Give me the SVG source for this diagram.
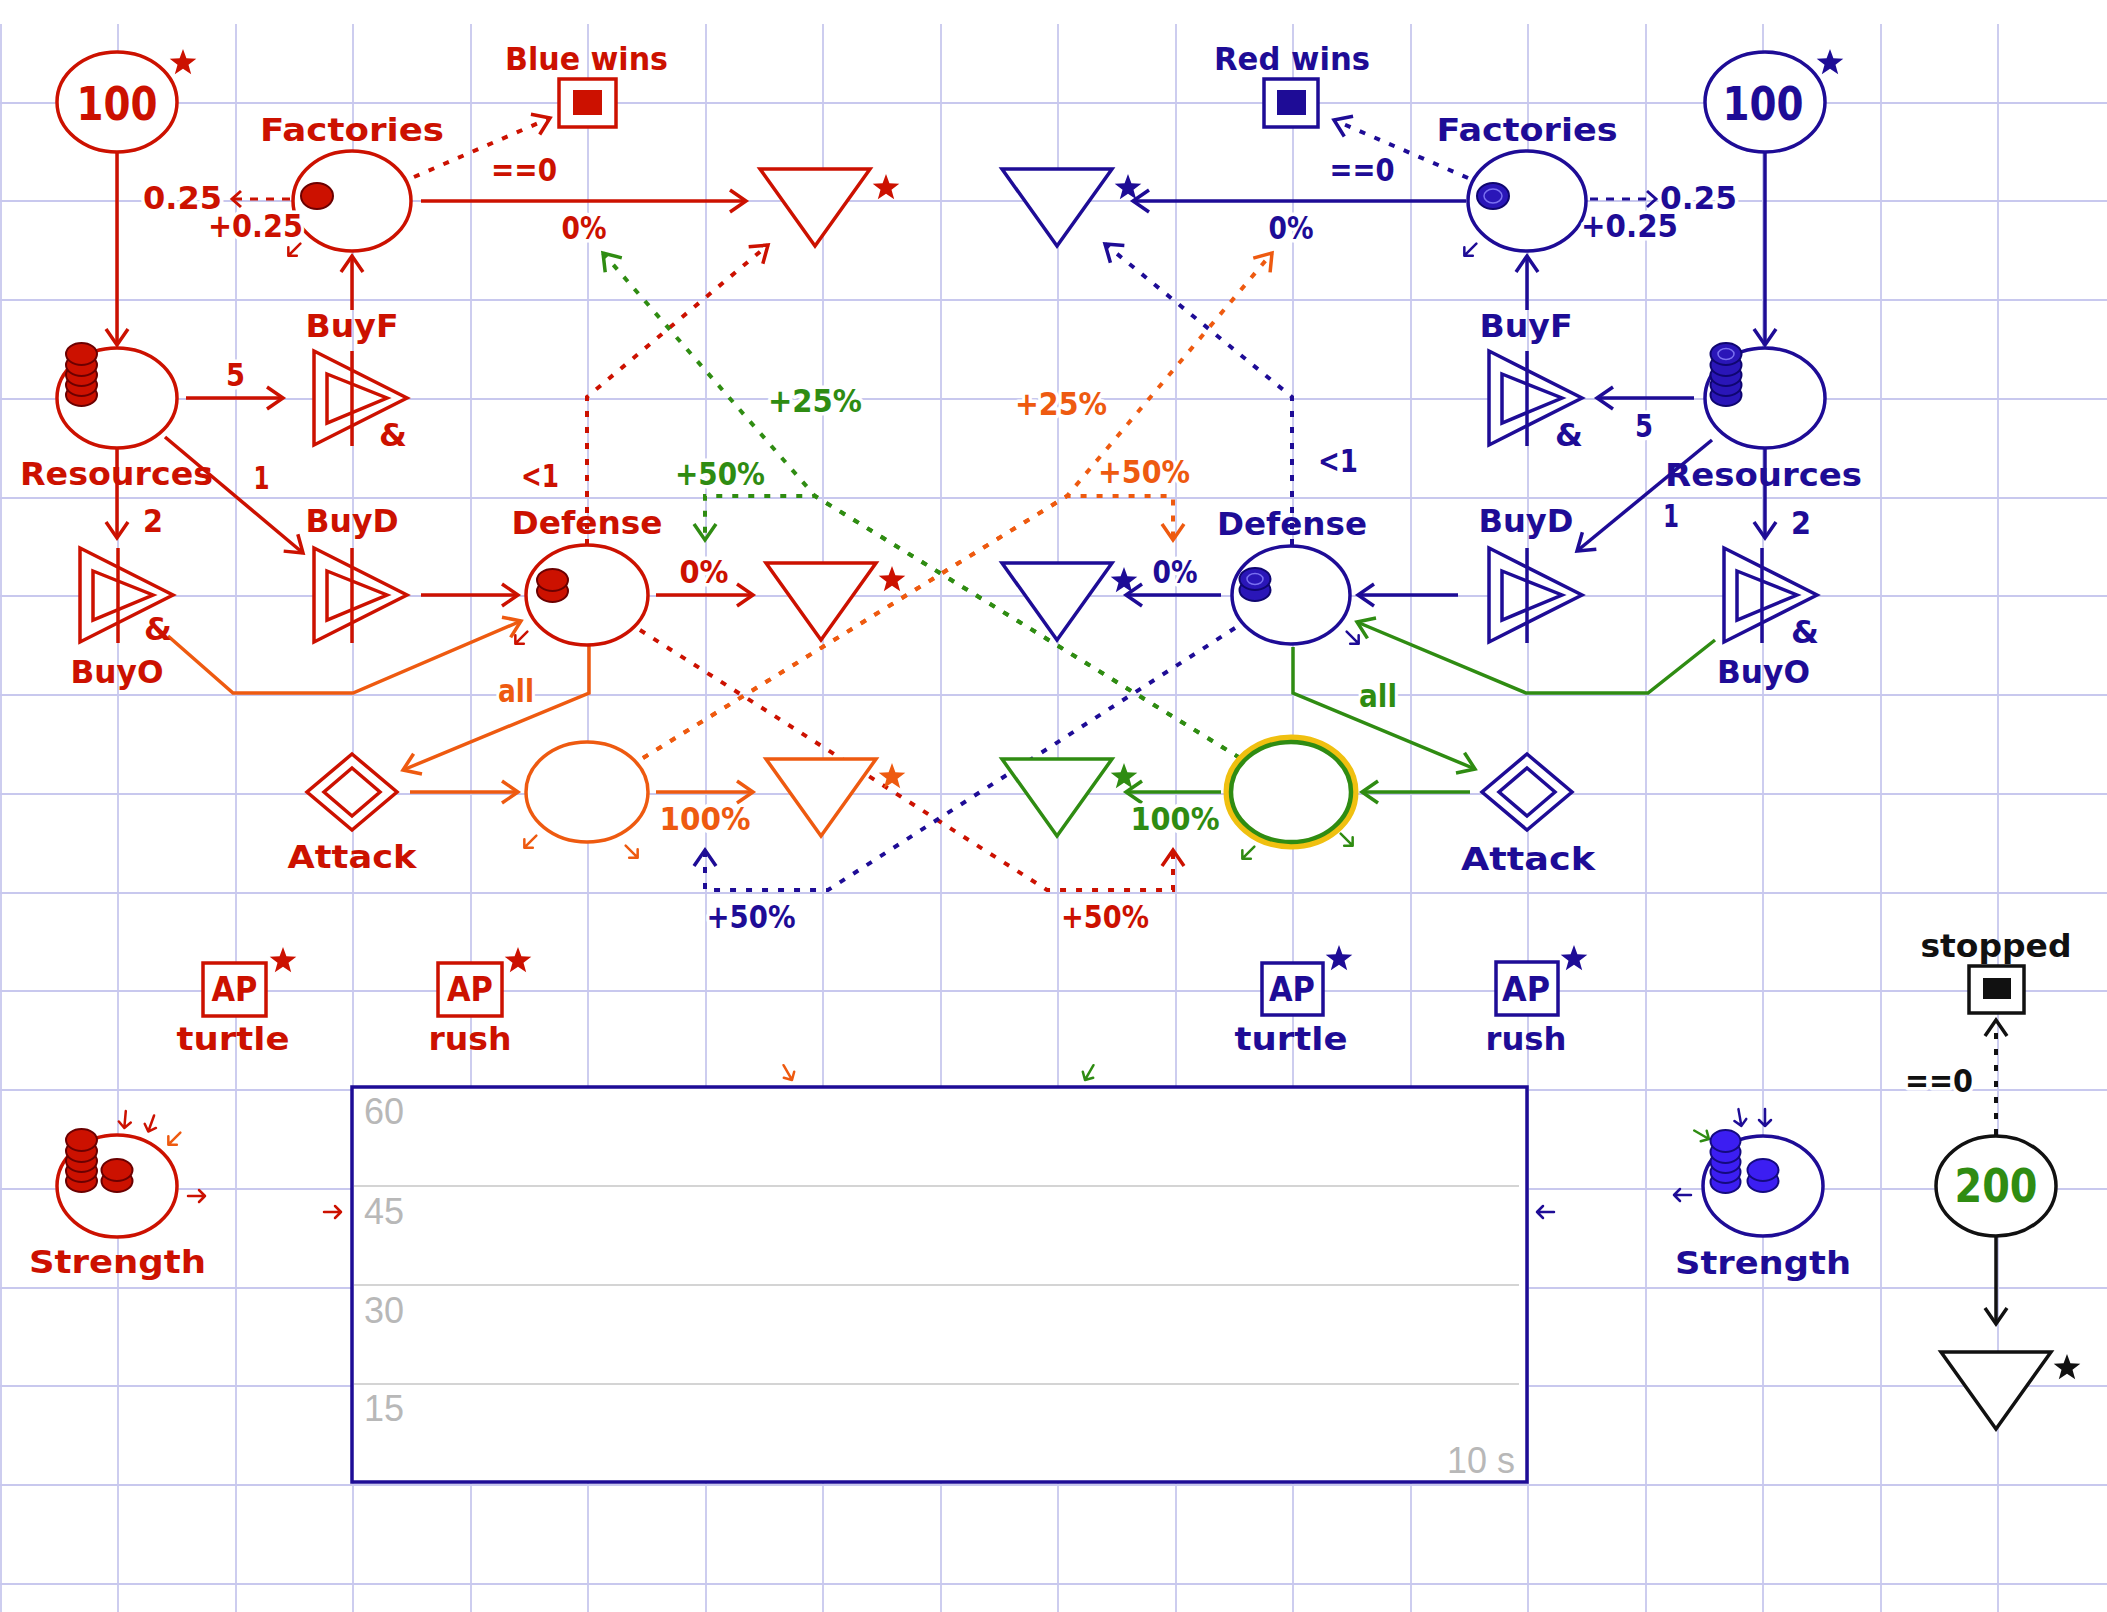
<svg xmlns="http://www.w3.org/2000/svg" width="2107" height="1612" viewBox="0 0 2107 1612">
<style>
.t{font-family:'DejaVu Sans',Verdana,sans-serif;font-weight:bold;font-size:32px;text-anchor:middle}
.big{font-size:46px}
.ap{font-size:33px}
.cl{paint-order:stroke;stroke:#fff;stroke-width:7px;stroke-linejoin:round}
.tr{fill:#cc1100}.tb{fill:#1e0c96}.to{fill:#ee5a10}.tg{fill:#2f8c12}.tk{fill:#111}
.sr{stroke:#cc1100}.sb{stroke:#1e0c96}.so{stroke:#ee5a10}.sg{stroke:#2f8c12}.sk{stroke:#111}
.n{stroke-width:3.5;fill:#fff}
.f{fill:none;stroke-width:3.5}
.d{fill:none;stroke-width:4;stroke-dasharray:6 10}
.ds{fill:none;stroke-width:3;stroke-dasharray:8 8}
.grid line{stroke:#c8c8ee;stroke-width:1.8}
.sa{fill:none;stroke-width:2.5;stroke-linecap:round;stroke-linejoin:round}
.cr{fill:#cc1100;stroke:#6b0000;stroke-width:2}
.cb{fill:#2a16b8;stroke:#0f0670;stroke-width:2}
.cbb{fill:#3c1ef2;stroke:#140a80;stroke-width:2}
.ring{fill:none;stroke:#7a70f0;stroke-width:1.5}
.ch{font-family:'Liberation Sans',Arial,sans-serif;font-size:36px;fill:#b8b8b8}
</style>
<defs>
<path id="star" d="M0,-14 L3.4,-4.7 L13.3,-4.3 L5.5,1.8 L8.2,11.3 L0,5.8 L-8.2,11.3 L-5.5,1.8 L-13.3,-4.3 L-3.4,-4.7 Z"/>
<path id="sa" d="M-9,0 H8 M2,-6 L8,0 L2,6"/>
<g id="conv" stroke-width="3.5"><path d="M-38,-47 L55,0 L-38,47 Z" fill="#fff"/><path d="M-25,-24 L35,0 L-25,25 Z" fill="none"/><path d="M0,-47 V48" fill="none"/></g>
<g id="gate" stroke-width="3.5"><path d="M0,-38 L45,0 L0,38 L-45,0 Z" fill="#fff"/><path d="M0,-24 L28,0 L0,24 L-28,0 Z" fill="none"/></g>
<polygon id="drain" points="-55,-33 55,-33 0,44" fill="#fff" stroke-width="3.5"/>
<marker id="mR" markerUnits="userSpaceOnUse" orient="auto" overflow="visible" markerWidth="1" markerHeight="1"><path d="M-16,-11 L0,0 L-16,11" fill="none" stroke="#cc1100" stroke-width="3.5"/></marker>
<marker id="mB" markerUnits="userSpaceOnUse" orient="auto" overflow="visible" markerWidth="1" markerHeight="1"><path d="M-16,-11 L0,0 L-16,11" fill="none" stroke="#1e0c96" stroke-width="3.5"/></marker>
<marker id="mO" markerUnits="userSpaceOnUse" orient="auto" overflow="visible" markerWidth="1" markerHeight="1"><path d="M-16,-11 L0,0 L-16,11" fill="none" stroke="#ee5a10" stroke-width="3.5"/></marker>
<marker id="mG" markerUnits="userSpaceOnUse" orient="auto" overflow="visible" markerWidth="1" markerHeight="1"><path d="M-16,-11 L0,0 L-16,11" fill="none" stroke="#2f8c12" stroke-width="3.5"/></marker>
<marker id="mK" markerUnits="userSpaceOnUse" orient="auto" overflow="visible" markerWidth="1" markerHeight="1"><path d="M-16,-11 L0,0 L-16,11" fill="none" stroke="#111" stroke-width="3.5"/></marker>
<marker id="sR" markerUnits="userSpaceOnUse" orient="auto" overflow="visible" markerWidth="1" markerHeight="1"><path d="M-9,-8 L0,0 L-9,8" fill="none" stroke="#cc1100" stroke-width="3"/></marker>
<marker id="sB" markerUnits="userSpaceOnUse" orient="auto" overflow="visible" markerWidth="1" markerHeight="1"><path d="M-9,-8 L0,0 L-9,8" fill="none" stroke="#1e0c96" stroke-width="3"/></marker>
</defs>
<rect width="2107" height="1612" fill="#fff"/>
<g class="grid">
<line x1="1" y1="24" x2="1" y2="1612"/><line x1="118" y1="24" x2="118" y2="1612"/><line x1="236" y1="24" x2="236" y2="1612"/><line x1="353" y1="24" x2="353" y2="1612"/><line x1="471" y1="24" x2="471" y2="1612"/><line x1="588" y1="24" x2="588" y2="1612"/><line x1="706" y1="24" x2="706" y2="1612"/><line x1="823" y1="24" x2="823" y2="1612"/><line x1="941" y1="24" x2="941" y2="1612"/><line x1="1058" y1="24" x2="1058" y2="1612"/><line x1="1176" y1="24" x2="1176" y2="1612"/><line x1="1293" y1="24" x2="1293" y2="1612"/><line x1="1411" y1="24" x2="1411" y2="1612"/><line x1="1528" y1="24" x2="1528" y2="1612"/><line x1="1646" y1="24" x2="1646" y2="1612"/><line x1="1763" y1="24" x2="1763" y2="1612"/><line x1="1881" y1="24" x2="1881" y2="1612"/><line x1="1998" y1="24" x2="1998" y2="1612"/>
<line x1="0" y1="103" x2="2107" y2="103"/><line x1="0" y1="201" x2="2107" y2="201"/><line x1="0" y1="300" x2="2107" y2="300"/><line x1="0" y1="399" x2="2107" y2="399"/><line x1="0" y1="498" x2="2107" y2="498"/><line x1="0" y1="596" x2="2107" y2="596"/><line x1="0" y1="695" x2="2107" y2="695"/><line x1="0" y1="794" x2="2107" y2="794"/><line x1="0" y1="893" x2="2107" y2="893"/><line x1="0" y1="991" x2="2107" y2="991"/><line x1="0" y1="1090" x2="2107" y2="1090"/><line x1="0" y1="1189" x2="2107" y2="1189"/><line x1="0" y1="1288" x2="2107" y2="1288"/><line x1="0" y1="1386" x2="2107" y2="1386"/><line x1="0" y1="1485" x2="2107" y2="1485"/><line x1="0" y1="1584" x2="2107" y2="1584"/>
</g>

<g id="chart">
<rect x="352" y="1087" width="1175" height="395" fill="#fff" stroke="#1e0c96" stroke-width="3.5"/>
<line x1="354" y1="1186" x2="1519" y2="1186" stroke="#d4d4d4" stroke-width="2"/>
<line x1="354" y1="1285" x2="1519" y2="1285" stroke="#d4d4d4" stroke-width="2"/>
<line x1="354" y1="1384" x2="1519" y2="1384" stroke="#d4d4d4" stroke-width="2"/>
<text class="ch" x="364" y="1124">60</text>
<text class="ch" x="364" y="1224">45</text>
<text class="ch" x="364" y="1323">30</text>
<text class="ch" x="364" y="1421">15</text>
<text class="ch" x="1515" y="1473" text-anchor="end">10 s</text>
</g>

<g id="connectors">
<path class="f sr" d="M117,153 V345" marker-end="url(#mR)"/>
<path class="f sr" d="M186,398 H283" marker-end="url(#mR)"/>
<path class="f sr" d="M352,310 V256" marker-end="url(#mR)"/>
<path class="f sr" d="M165,437 L303,553" marker-end="url(#mR)"/>
<path class="f sr" d="M117,449 V538" marker-end="url(#mR)"/>
<path class="f sr" d="M421,595 H518" marker-end="url(#mR)"/>
<path class="f sr" d="M421,201 H746" marker-end="url(#mR)"/>
<path class="f sr" d="M656,595 H753" marker-end="url(#mR)"/>
<path class="d sr" d="M414,177 L550,118" marker-end="url(#mR)"/>
<path class="ds sr" d="M290,199 H232" marker-end="url(#sR)"/>
<path class="d sr" d="M587,545 V397 L768,245" marker-end="url(#mR)"/>
<path class="d sr" d="M640,630 L1047,890 H1173 V850" marker-end="url(#mR)"/>
<path class="f so" d="M168,636 L233,693 H353 L521,621" marker-end="url(#mO)"/>
<path class="f so" d="M589,646 V693 L403,770" marker-end="url(#mO)"/>
<path class="f so" d="M410,792 H518" marker-end="url(#mO)"/>
<path class="f so" d="M656,792 H753" marker-end="url(#mO)"/>
<path class="d so" d="M643,758 L1067,496 L1272,253" marker-end="url(#mO)"/>
<path class="d so" d="M643,758 L1067,496 H1173 V540" marker-end="url(#mO)"/>
<path class="f sg" d="M1715,640 L1648,693 H1526 L1357,622" marker-end="url(#mG)"/>
<path class="f sg" d="M1293,647 V693 L1475,769" marker-end="url(#mG)"/>
<path class="f sg" d="M1470,792 H1362" marker-end="url(#mG)"/>
<path class="f sg" d="M1221,792 H1126" marker-end="url(#mG)"/>
<path class="d sg" d="M1240,758 L815,496 L603,253" marker-end="url(#mG)"/>
<path class="d sg" d="M1240,758 L815,496 H705 V540" marker-end="url(#mG)"/>
<path class="f sb" d="M1765,153 V345" marker-end="url(#mB)"/>
<path class="f sb" d="M1694,398 H1597" marker-end="url(#mB)"/>
<path class="f sb" d="M1527,310 V256" marker-end="url(#mB)"/>
<path class="f sb" d="M1712,440 L1577,551" marker-end="url(#mB)"/>
<path class="f sb" d="M1765,449 V538" marker-end="url(#mB)"/>
<path class="f sb" d="M1458,595 H1358" marker-end="url(#mB)"/>
<path class="f sb" d="M1466,201 H1133" marker-end="url(#mB)"/>
<path class="f sb" d="M1221,595 H1126" marker-end="url(#mB)"/>
<path class="d sb" d="M1468,178 L1334,120" marker-end="url(#mB)"/>
<path class="ds sb" d="M1590,199 H1656" marker-end="url(#sB)"/>
<path class="d sb" d="M1292,545 V397 L1105,244" marker-end="url(#mB)"/>
<path class="d sb" d="M1235,628 L828,890 H705 V850" marker-end="url(#mB)"/>
<path class="d sk" d="M1996,1135 V1020" marker-end="url(#mK)"/>
<path class="f sk" d="M1996,1237 V1324" marker-end="url(#mK)"/>
<use href="#sa" class="sa sr" transform="translate(294,250) rotate(135)"/>
<use href="#sa" class="sa sb" transform="translate(1470,250) rotate(135)"/>
<use href="#sa" class="sa sr" transform="translate(521,638) rotate(135)"/>
<use href="#sa" class="sa sb" transform="translate(1353,638) rotate(45)"/>
<use href="#sa" class="sa so" transform="translate(530,842) rotate(135)"/>
<use href="#sa" class="sa so" transform="translate(632,852) rotate(45)"/>
<use href="#sa" class="sa sg" transform="translate(1248,853) rotate(135)"/>
<use href="#sa" class="sa sg" transform="translate(1347,840) rotate(45)"/>
<use href="#sa" class="sa sr" transform="translate(125,1120) rotate(95)"/>
<use href="#sa" class="sa sr" transform="translate(151,1124) rotate(110)"/>
<use href="#sa" class="sa so" transform="translate(174,1139) rotate(135)"/>
<use href="#sa" class="sa sr" transform="translate(197,1196)"/>
<use href="#sa" class="sa sr" transform="translate(333,1212)"/>
<use href="#sa" class="sa so" transform="translate(788,1073) rotate(60)"/>
<use href="#sa" class="sa sg" transform="translate(1089,1073) rotate(120)"/>
<use href="#sa" class="sa sb" transform="translate(1545,1212) rotate(180)"/>
<use href="#sa" class="sa sg" transform="translate(1702,1135) rotate(30)"/>
<use href="#sa" class="sa sb" transform="translate(1740,1118) rotate(80)"/>
<use href="#sa" class="sa sb" transform="translate(1765,1118) rotate(90)"/>
<use href="#sa" class="sa sb" transform="translate(1682,1195) rotate(180)"/>
</g>

<g id="red-source">
<ellipse cx="117" cy="102" rx="60" ry="50" class="n sr"/>
<text class="t tr big" x="117" y="120" textLength="81" lengthAdjust="spacingAndGlyphs">100</text>
<use href="#star" x="183" y="63" fill="#cc1100"/>
</g>
<g id="red-resources">
<ellipse cx="117" cy="398" rx="60" ry="50" class="n sr"/>
<ellipse cx="81.5" cy="395" rx="15.5" ry="11" class="cr"/><ellipse cx="81.5" cy="385" rx="15.5" ry="11" class="cr"/><ellipse cx="81.5" cy="375" rx="15.5" ry="11" class="cr"/><ellipse cx="81.5" cy="365" rx="15.5" ry="11" class="cr"/><ellipse cx="81.5" cy="354" rx="15.5" ry="11" class="cr"/>
<text class="t tr" x="116.5" y="485" textLength="193" lengthAdjust="spacingAndGlyphs">Resources</text>
</g>
<g id="red-factories">
<ellipse cx="352" cy="201" rx="59" ry="50" class="n sr"/>
<ellipse cx="317" cy="196" rx="16" ry="13" class="cr"/>
<text class="t tr" x="352" y="141" textLength="184" lengthAdjust="spacingAndGlyphs">Factories</text>
</g>
<g id="red-buyf">
<use href="#conv" x="352" y="398" class="sr"/>
<text class="t tr" x="352" y="337" textLength="93" lengthAdjust="spacingAndGlyphs">BuyF</text>
<text class="t tr" x="393" y="446">&amp;</text>
</g>
<g id="red-buyd">
<use href="#conv" x="352" y="595" class="sr"/>
<text class="t tr" x="352" y="532" textLength="93" lengthAdjust="spacingAndGlyphs">BuyD</text>
</g>
<g id="red-buyo">
<use href="#conv" x="118" y="595" class="sr"/>
<text class="t tr" x="158" y="640">&amp;</text>
<text class="t tr" x="117" y="683" textLength="93" lengthAdjust="spacingAndGlyphs">BuyO</text>
</g>
<g id="red-defense">
<ellipse cx="587" cy="595" rx="61" ry="50" class="n sr"/>
<ellipse cx="552.5" cy="591" rx="15.5" ry="11" class="cr"/><ellipse cx="552.5" cy="580" rx="15.5" ry="11" class="cr"/>
<text class="t tr" x="587" y="534" textLength="151" lengthAdjust="spacingAndGlyphs">Defense</text>
</g>
<g id="red-attack">
<use href="#gate" x="352" y="792" class="sr"/>
<text class="t tr" x="352" y="868" textLength="129" lengthAdjust="spacingAndGlyphs">Attack</text>
</g>
<g id="orange-pool"><ellipse cx="587" cy="792" rx="61" ry="50" class="n so"/></g>
<g id="blue-wins">
<rect x="559" y="79" width="57" height="48" class="n sr"/>
<rect x="573" y="90" width="29" height="25" fill="#cc1100"/>
<text class="t tr" x="586.5" y="70" textLength="163" lengthAdjust="spacingAndGlyphs">Blue wins</text>
</g>
<g id="red-drain-top"><use href="#drain" x="815" y="202" class="sr"/><use href="#star" x="886" y="188" fill="#cc1100"/></g>
<g id="red-drain-mid"><use href="#drain" x="821" y="596" class="sr"/><use href="#star" x="892" y="580" fill="#cc1100"/></g>
<g id="orange-drain"><use href="#drain" x="821" y="792" class="so"/><use href="#star" x="892" y="777" fill="#ee5a10"/></g>
<g id="blue-drain-top"><use href="#drain" x="1057" y="202" class="sb"/><use href="#star" x="1128" y="188" fill="#1e0c96"/></g>
<g id="blue-drain-mid"><use href="#drain" x="1057" y="596" class="sb"/><use href="#star" x="1124" y="581" fill="#1e0c96"/></g>
<g id="green-drain"><use href="#drain" x="1057" y="792" class="sg"/><use href="#star" x="1124" y="777" fill="#2f8c12"/></g>

<g id="blue-source">
<ellipse cx="1765" cy="102" rx="60" ry="50" class="n sb"/>
<text class="t tb big" x="1763" y="120" textLength="81" lengthAdjust="spacingAndGlyphs">100</text>
<use href="#star" x="1830" y="63" fill="#1e0c96"/>
</g>
<g id="blue-resources">
<ellipse cx="1765" cy="398" rx="60" ry="50" class="n sb"/>
<ellipse cx="1726" cy="395" rx="15.5" ry="11" class="cb"/><ellipse cx="1726" cy="385" rx="15.5" ry="11" class="cb"/><ellipse cx="1726" cy="375" rx="15.5" ry="11" class="cb"/><ellipse cx="1726" cy="365" rx="15.5" ry="11" class="cb"/><ellipse cx="1726" cy="354" rx="15.5" ry="11" class="cb"/><ellipse cx="1726" cy="354" rx="8" ry="5.5" class="ring"/>
<text class="t tb" x="1763.5" y="486" textLength="197" lengthAdjust="spacingAndGlyphs">Resources</text>
</g>
<g id="blue-factories">
<ellipse cx="1527" cy="201" rx="59" ry="50" class="n sb"/>
<ellipse cx="1493" cy="196" rx="16" ry="13" class="cb"/><ellipse cx="1493" cy="196" rx="9" ry="7" class="ring"/>
<text class="t tb" x="1527" y="141" textLength="181" lengthAdjust="spacingAndGlyphs">Factories</text>
</g>
<g id="blue-buyf">
<use href="#conv" x="1527" y="398" class="sb"/>
<text class="t tb" x="1526" y="337" textLength="93" lengthAdjust="spacingAndGlyphs">BuyF</text>
<text class="t tb" x="1569" y="446">&amp;</text>
</g>
<g id="blue-buyd">
<use href="#conv" x="1527" y="595" class="sb"/>
<text class="t tb" x="1526" y="532" textLength="95" lengthAdjust="spacingAndGlyphs">BuyD</text>
</g>
<g id="blue-buyo">
<use href="#conv" x="1762" y="595" class="sb"/>
<text class="t tb" x="1805" y="643">&amp;</text>
<text class="t tb" x="1763.5" y="683" textLength="93" lengthAdjust="spacingAndGlyphs">BuyO</text>
</g>
<g id="blue-defense">
<ellipse cx="1291" cy="595" rx="59" ry="49" class="n sb"/>
<ellipse cx="1255" cy="590" rx="15.5" ry="11" class="cb"/><ellipse cx="1255" cy="579" rx="15.5" ry="11" class="cb"/><ellipse cx="1255" cy="579" rx="8" ry="5.5" class="ring"/>
<text class="t tb" x="1292" y="535" textLength="150" lengthAdjust="spacingAndGlyphs">Defense</text>
</g>
<g id="blue-attack">
<use href="#gate" x="1527" y="792" class="sb"/>
<text class="t tb" x="1528" y="870" textLength="134" lengthAdjust="spacingAndGlyphs">Attack</text>
</g>
<g id="green-pool">
<ellipse cx="1291" cy="792" rx="63" ry="53" fill="#fff" stroke="#f0c010" stroke-width="9"/>
<ellipse cx="1291" cy="792" rx="60" ry="50" fill="none" stroke="#2f8c12" stroke-width="4.5"/>
</g>
<g id="red-wins">
<rect x="1264" y="79" width="54" height="48" class="n sb"/>
<rect x="1277" y="90" width="29" height="25" fill="#1e0c96"/>
<text class="t tb" x="1292" y="70" textLength="156" lengthAdjust="spacingAndGlyphs">Red wins</text>
</g>

<g id="red-ap-turtle">
<rect x="203" y="963" width="63" height="53" class="n sr"/>
<text class="t tr ap" x="234.5" y="1001" textLength="46" lengthAdjust="spacingAndGlyphs">AP</text>
<use href="#star" x="283" y="961" fill="#cc1100"/>
<text class="t tr" x="233" y="1050" textLength="113" lengthAdjust="spacingAndGlyphs">turtle</text>
</g>
<g id="red-ap-rush">
<rect x="438" y="963" width="64" height="53" class="n sr"/>
<text class="t tr ap" x="470" y="1001" textLength="46" lengthAdjust="spacingAndGlyphs">AP</text>
<use href="#star" x="518" y="961" fill="#cc1100"/>
<text class="t tr" x="470" y="1050" textLength="83" lengthAdjust="spacingAndGlyphs">rush</text>
</g>
<g id="blue-ap-turtle">
<rect x="1262" y="963" width="61" height="52" class="n sb"/>
<text class="t tb ap" x="1292" y="1001" textLength="46" lengthAdjust="spacingAndGlyphs">AP</text>
<use href="#star" x="1339" y="959" fill="#1e0c96"/>
<text class="t tb" x="1291" y="1050" textLength="113" lengthAdjust="spacingAndGlyphs">turtle</text>
</g>
<g id="blue-ap-rush">
<rect x="1496" y="962" width="62" height="53" class="n sb"/>
<text class="t tb ap" x="1526" y="1001" textLength="48" lengthAdjust="spacingAndGlyphs">AP</text>
<use href="#star" x="1574" y="959" fill="#1e0c96"/>
<text class="t tb" x="1526" y="1050" textLength="81" lengthAdjust="spacingAndGlyphs">rush</text>
</g>

<g id="red-strength">
<ellipse cx="117" cy="1186" rx="60" ry="51" class="n sr"/>
<ellipse cx="81.5" cy="1181" rx="15.5" ry="11" class="cr"/><ellipse cx="81.5" cy="1171" rx="15.5" ry="11" class="cr"/><ellipse cx="81.5" cy="1161" rx="15.5" ry="11" class="cr"/><ellipse cx="81.5" cy="1151" rx="15.5" ry="11" class="cr"/><ellipse cx="81.5" cy="1140" rx="15.5" ry="11" class="cr"/>
<ellipse cx="117" cy="1181" rx="15.5" ry="11" class="cr"/><ellipse cx="117" cy="1170" rx="15.5" ry="11" class="cr"/>
<text class="t tr" x="117.5" y="1273" textLength="177" lengthAdjust="spacingAndGlyphs">Strength</text>
</g>
<g id="blue-strength">
<ellipse cx="1763" cy="1186" rx="60" ry="50" class="n sb"/>
<ellipse cx="1725.5" cy="1182" rx="15" ry="11" class="cbb"/><ellipse cx="1725.5" cy="1172" rx="15" ry="11" class="cbb"/><ellipse cx="1725.5" cy="1162" rx="15" ry="11" class="cbb"/><ellipse cx="1725.5" cy="1152" rx="15" ry="11" class="cbb"/><ellipse cx="1725.5" cy="1141" rx="15" ry="11" class="cbb"/>
<ellipse cx="1763" cy="1181" rx="15.5" ry="11" class="cbb"/><ellipse cx="1763" cy="1170" rx="15.5" ry="11" class="cbb"/>
<text class="t tb" x="1763" y="1274" textLength="176" lengthAdjust="spacingAndGlyphs">Strength</text>
</g>
<g id="timer-source">
<ellipse cx="1996" cy="1186" rx="60" ry="50" class="n sk"/>
<text class="t tg big" x="1996" y="1202" textLength="83" lengthAdjust="spacingAndGlyphs">200</text>
</g>
<g id="stopped">
<rect x="1969" y="966" width="55" height="47" class="n sk"/>
<rect x="1983" y="978" width="28" height="21" fill="#111"/>
<text class="t tk" x="1996" y="957" textLength="151" lengthAdjust="spacingAndGlyphs">stopped</text>
</g>
<g id="black-drain"><use href="#drain" x="1996" y="1385" class="sk"/><use href="#star" x="2067" y="1368" fill="#111"/></g>

<g id="connection-labels">
<text class="t tr cl" x="182.5" y="209" textLength="79" lengthAdjust="spacingAndGlyphs">0.25</text>
<text class="t tr cl" x="255.5" y="237" textLength="95" lengthAdjust="spacingAndGlyphs">+0.25</text>
<text class="t tr cl" x="524" y="181" textLength="66" lengthAdjust="spacingAndGlyphs">==0</text>
<text class="t tr cl" x="584" y="239" textLength="45" lengthAdjust="spacingAndGlyphs">0%</text>
<text class="t tr cl" x="235.5" y="386" textLength="19" lengthAdjust="spacingAndGlyphs">5</text>
<text class="t tr cl" x="261.5" y="489" textLength="16" lengthAdjust="spacingAndGlyphs">1</text>
<text class="t tr cl" x="153" y="532" textLength="20" lengthAdjust="spacingAndGlyphs">2</text>
<text class="t tr cl" x="540" y="487" textLength="38" lengthAdjust="spacingAndGlyphs">&lt;1</text>
<text class="t tr cl" x="704" y="583" textLength="49" lengthAdjust="spacingAndGlyphs">0%</text>
<text class="t to cl" x="516" y="702" textLength="36" lengthAdjust="spacingAndGlyphs">all</text>
<text class="t to cl" x="705" y="830" textLength="91" lengthAdjust="spacingAndGlyphs">100%</text>
<text class="t tg cl" x="815" y="412" textLength="94" lengthAdjust="spacingAndGlyphs">+25%</text>
<text class="t tg cl" x="720" y="485" textLength="90" lengthAdjust="spacingAndGlyphs">+50%</text>
<text class="t to cl" x="1061" y="415" textLength="92" lengthAdjust="spacingAndGlyphs">+25%</text>
<text class="t to cl" x="1144" y="483" textLength="92" lengthAdjust="spacingAndGlyphs">+50%</text>
<text class="t tb cl" x="751" y="928" textLength="89" lengthAdjust="spacingAndGlyphs">+50%</text>
<text class="t tr cl" x="1105" y="928" textLength="88" lengthAdjust="spacingAndGlyphs">+50%</text>
<text class="t tb cl" x="1698.5" y="209" textLength="77" lengthAdjust="spacingAndGlyphs">0.25</text>
<text class="t tb cl" x="1629.5" y="237" textLength="97" lengthAdjust="spacingAndGlyphs">+0.25</text>
<text class="t tb cl" x="1362" y="181" textLength="65" lengthAdjust="spacingAndGlyphs">==0</text>
<text class="t tb cl" x="1291" y="239" textLength="45" lengthAdjust="spacingAndGlyphs">0%</text>
<text class="t tb cl" x="1644" y="437" textLength="18" lengthAdjust="spacingAndGlyphs">5</text>
<text class="t tb cl" x="1671" y="527" textLength="16" lengthAdjust="spacingAndGlyphs">1</text>
<text class="t tb cl" x="1801" y="534" textLength="20" lengthAdjust="spacingAndGlyphs">2</text>
<text class="t tb cl" x="1338" y="472" textLength="40" lengthAdjust="spacingAndGlyphs">&lt;1</text>
<text class="t tb cl" x="1175" y="583" textLength="45" lengthAdjust="spacingAndGlyphs">0%</text>
<text class="t tg cl" x="1378" y="707" textLength="38" lengthAdjust="spacingAndGlyphs">all</text>
<text class="t tg cl" x="1175" y="830" textLength="89" lengthAdjust="spacingAndGlyphs">100%</text>
<text class="t tk cl" x="1939" y="1092" textLength="68" lengthAdjust="spacingAndGlyphs">==0</text>
</g>
</svg>
